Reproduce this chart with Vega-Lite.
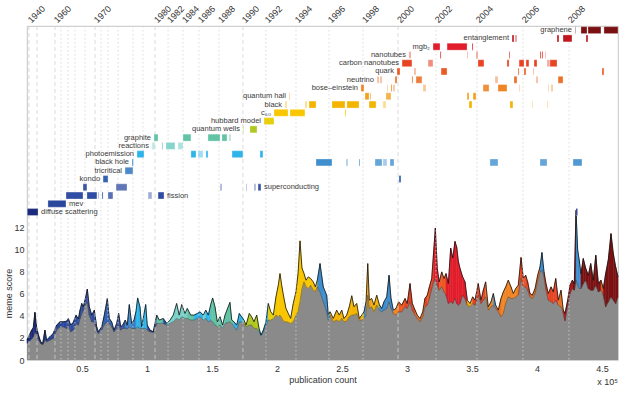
{
"$schema": "https://vega.github.io/schema/vega-lite/v6.json",
"width": 591,
"height": 334,
"autosize": {"type": "none"},
"padding": {"left": 27, "top": 26, "right": 22, "bottom": 35},
"background": "white",
"title": {"text": "x 10⁵", "orient": "bottom", "anchor": "end", "frame": "group", "fontSize": 9, "fontWeight": "normal", "color": "#333", "offset": -6, "font": "Liberation Sans"},
"config": {
"font": "Liberation Sans",
"view": {"stroke": "#b8b8b8", "strokeWidth": 0.8},
"axis": {"grid": false, "ticks": false, "domain": false, "labelFontSize": 9, "labelColor": "#333", "titleFontSize": 9, "titleFontWeight": "normal", "titleColor": "#333", "labelFont": "Liberation Sans", "titleFont": "Liberation Sans"}
},
"datasets": {
"score": [
{"x":0.077,"top":1.8,"base":1.5,"meme":"diffuse scattering"},
{"x":0.113,"top":2.7,"base":1.9,"meme":"diffuse scattering"},
{"x":0.125,"top":2.9,"base":2.1,"meme":"diffuse scattering"},
{"x":0.138,"top":4.3,"base":2.55,"meme":"diffuse scattering"},
{"x":0.152,"top":2.9,"base":2.25,"meme":"diffuse scattering"},
{"x":0.164,"top":2.3,"base":1.9,"meme":"diffuse scattering"},
{"x":0.182,"top":1.65,"base":1.5,"meme":"diffuse scattering"},
{"x":0.198,"top":1.5,"base":1.4,"meme":"diffuse scattering"},
{"x":0.215,"top":2.7,"base":1.8,"meme":"mev"},
{"x":0.228,"top":1.8,"base":1.65,"meme":"mev"},
{"x":0.254,"top":2.1,"base":1.8,"meme":"mev"},
{"x":0.279,"top":2.4,"base":1.95,"meme":"mev"},
{"x":0.305,"top":3.15,"base":2.7,"meme":"mev"},
{"x":0.331,"top":3.45,"base":3.0,"meme":"mev"},
{"x":0.356,"top":3.45,"base":3.0,"meme":"mev"},
{"x":0.382,"top":3.5,"base":2.85,"meme":"fission"},
{"x":0.395,"top":3.75,"base":3.15,"meme":"fission"},
{"x":0.413,"top":3.15,"base":2.55,"meme":"fission"},
{"x":0.433,"top":3.4,"base":2.7,"meme":"fission"},
{"x":0.454,"top":4.05,"base":3.3,"meme":"fission"},
{"x":0.472,"top":3.7,"base":3.15,"meme":"fission"},
{"x":0.485,"top":4.5,"base":3.75,"meme":"fission"},
{"x":0.498,"top":5.1,"base":4.2,"meme":"fission"},
{"x":0.510,"top":4.8,"base":4.5,"meme":"fission"},
{"x":0.523,"top":5.4,"base":4.95,"meme":"superconducting"},
{"x":0.541,"top":6.4,"base":5.2,"meme":"superconducting"},
{"x":0.556,"top":4.8,"base":4.05,"meme":"fission"},
{"x":0.575,"top":4.05,"base":3.45,"meme":"fission"},
{"x":0.595,"top":4.5,"base":3.45,"meme":"fission"},
{"x":0.613,"top":3.0,"base":2.7,"meme":"fission"},
{"x":0.625,"top":2.55,"base":2.4,"meme":"fission"},
{"x":0.652,"top":3.0,"base":2.7,"meme":"kondo"},
{"x":0.669,"top":3.9,"base":3.15,"meme":"kondo"},
{"x":0.695,"top":5.55,"base":3.45,"meme":"kondo"},
{"x":0.710,"top":3.75,"base":3.3,"meme":"kondo"},
{"x":0.728,"top":3.45,"base":3.0,"meme":"kondo"},
{"x":0.746,"top":2.7,"base":2.55,"meme":"superconducting"},
{"x":0.767,"top":3.3,"base":2.85,"meme":"superconducting"},
{"x":0.782,"top":4.2,"base":3.15,"meme":"superconducting"},
{"x":0.798,"top":3.0,"base":2.7,"meme":"superconducting"},
{"x":0.813,"top":3.15,"base":2.85,"meme":"superconducting"},
{"x":0.833,"top":3.6,"base":2.85,"meme":"tricritical"},
{"x":0.848,"top":3.15,"base":2.8,"meme":"tricritical"},
{"x":0.864,"top":5.0,"base":3.0,"meme":"black hole"},
{"x":0.882,"top":3.3,"base":2.85,"meme":"tricritical"},
{"x":0.900,"top":3.6,"base":2.85,"meme":"tricritical"},
{"x":0.915,"top":4.35,"base":2.85,"meme":"photoemission"},
{"x":0.928,"top":5.6,"base":3.0,"meme":"photoemission"},
{"x":0.946,"top":4.8,"base":2.85,"meme":"photoemission"},
{"x":0.959,"top":3.0,"base":2.85,"meme":"photoemission"},
{"x":0.990,"top":5.0,"base":2.85,"meme":"photoemission"},
{"x":1.002,"top":3.15,"base":2.7,"meme":"fission"},
{"x":1.023,"top":2.7,"base":2.55,"meme":"fission"},
{"x":1.048,"top":2.55,"base":2.5,"meme":"fission"},
{"x":1.075,"top":4.05,"base":3.3,"meme":"graphite"},
{"x":1.095,"top":3.6,"base":3.3,"meme":"graphite"},
{"x":1.125,"top":3.75,"base":3.3,"meme":"fission"},
{"x":1.152,"top":3.3,"base":3.15,"meme":"reactions"},
{"x":1.177,"top":3.6,"base":3.3,"meme":"reactions"},
{"x":1.202,"top":4.05,"base":3.45,"meme":"reactions"},
{"x":1.228,"top":5.1,"base":3.75,"meme":"reactions"},
{"x":1.248,"top":4.05,"base":3.6,"meme":"reactions"},
{"x":1.267,"top":5.0,"base":3.9,"meme":"reactions"},
{"x":1.292,"top":4.2,"base":3.75,"meme":"reactions"},
{"x":1.310,"top":4.65,"base":3.75,"meme":"graphite"},
{"x":1.336,"top":4.05,"base":3.6,"meme":"graphite"},
{"x":1.362,"top":4.05,"base":3.6,"meme":"photoemission"},
{"x":1.387,"top":4.2,"base":3.75,"meme":"photoemission"},
{"x":1.408,"top":4.35,"base":3.9,"meme":"photoemission"},
{"x":1.433,"top":4.05,"base":3.6,"meme":"reactions"},
{"x":1.452,"top":4.5,"base":3.75,"meme":"photoemission"},
{"x":1.472,"top":4.05,"base":3.45,"meme":"photoemission"},
{"x":1.490,"top":5.0,"base":3.6,"meme":"graphite"},
{"x":1.505,"top":5.6,"base":3.45,"meme":"graphite"},
{"x":1.523,"top":4.8,"base":3.15,"meme":"graphite"},
{"x":1.541,"top":3.45,"base":3.0,"meme":"graphite"},
{"x":1.562,"top":3.9,"base":3.15,"meme":"graphite"},
{"x":1.582,"top":3.15,"base":2.85,"meme":"reactions"},
{"x":1.600,"top":4.05,"base":3.3,"meme":"graphite"},
{"x":1.638,"top":5.2,"base":3.45,"meme":"graphite"},
{"x":1.652,"top":3.6,"base":3.3,"meme":"graphite"},
{"x":1.669,"top":3.45,"base":3.0,"meme":"photoemission"},
{"x":1.690,"top":3.15,"base":2.7,"meme":"photoemission"},
{"x":1.710,"top":4.2,"base":3.45,"meme":"photoemission"},
{"x":1.728,"top":3.9,"base":3.45,"meme":"photoemission"},
{"x":1.746,"top":3.6,"base":3.3,"meme":"quantum wells"},
{"x":1.762,"top":3.15,"base":3.0,"meme":"quantum wells"},
{"x":1.787,"top":4.2,"base":3.15,"meme":"quantum wells"},
{"x":1.805,"top":3.9,"base":3.15,"meme":"quantum wells"},
{"x":1.823,"top":3.45,"base":2.85,"meme":"quantum wells"},
{"x":1.844,"top":4.05,"base":2.85,"meme":"quantum wells"},
{"x":1.862,"top":2.85,"base":2.55,"meme":"photoemission"},
{"x":1.877,"top":2.25,"base":2.2,"meme":"photoemission"},
{"x":1.895,"top":2.7,"base":2.55,"meme":"photoemission"},
{"x":1.915,"top":3.45,"base":3.15,"meme":"photoemission"},
{"x":1.933,"top":5.1,"base":3.6,"meme":"hubbard model"},
{"x":1.952,"top":4.35,"base":3.6,"meme":"hubbard model"},
{"x":1.972,"top":4.05,"base":3.75,"meme":"hubbard model"},
{"x":1.992,"top":5.7,"base":4.05,"meme":"c₆₀"},
{"x":2.010,"top":6.75,"base":3.9,"meme":"c₆₀"},
{"x":2.023,"top":7.8,"base":4.05,"meme":"c₆₀"},
{"x":2.038,"top":6.6,"base":3.75,"meme":"c₆₀"},
{"x":2.054,"top":5.55,"base":3.45,"meme":"c₆₀"},
{"x":2.069,"top":4.65,"base":3.45,"meme":"c₆₀"},
{"x":2.087,"top":4.2,"base":3.4,"meme":"c₆₀"},
{"x":2.105,"top":3.75,"base":3.3,"meme":"c₆₀"},
{"x":2.125,"top":5.1,"base":3.45,"meme":"c₆₀"},
{"x":2.146,"top":6.15,"base":4.05,"meme":"c₆₀"},
{"x":2.162,"top":7.8,"base":4.35,"meme":"c₆₀"},
{"x":2.177,"top":10.75,"base":5.25,"meme":"c₆₀"},
{"x":2.192,"top":8.3,"base":6.45,"meme":"c₆₀"},
{"x":2.208,"top":7.8,"base":7.05,"meme":"c₆₀"},
{"x":2.223,"top":7.2,"base":6.6,"meme":"c₆₀"},
{"x":2.241,"top":7.5,"base":6.45,"meme":"c₆₀"},
{"x":2.259,"top":7.35,"base":6.75,"meme":"c₆₀"},
{"x":2.279,"top":7.05,"base":6.3,"meme":"black"},
{"x":2.295,"top":6.6,"base":6.15,"meme":"black"},
{"x":2.310,"top":7.2,"base":6.6,"meme":"black hole"},
{"x":2.331,"top":8.7,"base":6.15,"meme":"black hole"},
{"x":2.356,"top":6.6,"base":5.25,"meme":"black hole"},
{"x":2.382,"top":5.85,"base":4.35,"meme":"black hole"},
{"x":2.395,"top":4.05,"base":3.6,"meme":"black hole"},
{"x":2.408,"top":4.35,"base":4.05,"meme":"black"},
{"x":2.433,"top":3.75,"base":3.45,"meme":"black"},
{"x":2.459,"top":4.5,"base":3.6,"meme":"black"},
{"x":2.479,"top":4.05,"base":3.45,"meme":"black"},
{"x":2.498,"top":4.5,"base":3.75,"meme":"black"},
{"x":2.515,"top":3.75,"base":3.45,"meme":"black"},
{"x":2.536,"top":4.05,"base":3.5,"meme":"black"},
{"x":2.556,"top":4.8,"base":3.9,"meme":"black"},
{"x":2.575,"top":5.8,"base":4.05,"meme":"black"},
{"x":2.592,"top":4.8,"base":4.05,"meme":"black"},
{"x":2.613,"top":5.1,"base":4.2,"meme":"black"},
{"x":2.633,"top":3.75,"base":3.6,"meme":"quantum hall"},
{"x":2.652,"top":4.05,"base":3.6,"meme":"black"},
{"x":2.669,"top":4.35,"base":3.75,"meme":"black hole"},
{"x":2.685,"top":5.25,"base":4.05,"meme":"quantum hall"},
{"x":2.698,"top":8.7,"base":5.85,"meme":"quantum hall"},
{"x":2.710,"top":5.4,"base":4.65,"meme":"quantum hall"},
{"x":2.728,"top":5.55,"base":4.8,"meme":"black"},
{"x":2.746,"top":4.95,"base":4.35,"meme":"black"},
{"x":2.767,"top":5.85,"base":4.95,"meme":"black"},
{"x":2.787,"top":5.0,"base":4.5,"meme":"black hole"},
{"x":2.805,"top":4.65,"base":4.35,"meme":"black hole"},
{"x":2.823,"top":5.25,"base":4.5,"meme":"black hole"},
{"x":2.844,"top":5.7,"base":4.65,"meme":"black hole"},
{"x":2.862,"top":7.65,"base":5.25,"meme":"black hole"},
{"x":2.877,"top":5.55,"base":4.65,"meme":"black hole"},
{"x":2.895,"top":4.5,"base":4.2,"meme":"bose–einstein"},
{"x":2.915,"top":4.65,"base":4.05,"meme":"bose–einstein"},
{"x":2.936,"top":5.25,"base":4.35,"meme":"quark"},
{"x":2.959,"top":4.95,"base":4.35,"meme":"quark"},
{"x":2.985,"top":5.55,"base":4.8,"meme":"carbon nanotubes"},
{"x":3.002,"top":5.1,"base":4.65,"meme":"carbon nanotubes"},
{"x":3.023,"top":6.9,"base":5.25,"meme":"carbon nanotubes"},
{"x":3.041,"top":5.1,"base":4.5,"meme":"carbon nanotubes"},
{"x":3.062,"top":4.5,"base":4.05,"meme":"neutrino"},
{"x":3.079,"top":4.05,"base":3.75,"meme":"neutrino"},
{"x":3.100,"top":3.75,"base":3.45,"meme":"neutrino"},
{"x":3.121,"top":4.35,"base":3.9,"meme":"neutrino"},
{"x":3.138,"top":5.55,"base":4.8,"meme":"carbon nanotubes"},
{"x":3.156,"top":5.85,"base":4.95,"meme":"quark"},
{"x":3.172,"top":6.6,"base":5.55,"meme":"carbon nanotubes"},
{"x":3.190,"top":7.35,"base":6.45,"meme":"carbon nanotubes"},
{"x":3.205,"top":9.8,"base":7.05,"meme":"mgb₂"},
{"x":3.218,"top":11.9,"base":7.35,"meme":"mgb₂"},
{"x":3.233,"top":8.25,"base":6.75,"meme":"mgb₂"},
{"x":3.248,"top":7.05,"base":6.3,"meme":"quark"},
{"x":3.267,"top":7.95,"base":6.6,"meme":"quark"},
{"x":3.285,"top":7.35,"base":6.15,"meme":"quark"},
{"x":3.300,"top":7.8,"base":5.85,"meme":"mgb₂"},
{"x":3.318,"top":6.9,"base":5.1,"meme":"mgb₂"},
{"x":3.336,"top":10.1,"base":5.25,"meme":"mgb₂"},
{"x":3.352,"top":9.2,"base":5.1,"meme":"mgb₂"},
{"x":3.369,"top":10.7,"base":5.55,"meme":"mgb₂"},
{"x":3.382,"top":10.2,"base":5.1,"meme":"mgb₂"},
{"x":3.395,"top":8.9,"base":4.95,"meme":"mgb₂"},
{"x":3.408,"top":8.25,"base":5.1,"meme":"mgb₂"},
{"x":3.428,"top":7.5,"base":5.85,"meme":"mgb₂"},
{"x":3.446,"top":7.05,"base":5.55,"meme":"mgb₂"},
{"x":3.464,"top":5.4,"base":4.95,"meme":"black"},
{"x":3.485,"top":5.1,"base":4.8,"meme":"quantum hall"},
{"x":3.505,"top":5.7,"base":5.1,"meme":"carbon nanotubes"},
{"x":3.523,"top":5.4,"base":4.95,"meme":"carbon nanotubes"},
{"x":3.548,"top":6.9,"base":5.85,"meme":"carbon nanotubes"},
{"x":3.569,"top":5.4,"base":5.1,"meme":"carbon nanotubes"},
{"x":3.587,"top":6.3,"base":5.4,"meme":"carbon nanotubes"},
{"x":3.605,"top":7.05,"base":5.7,"meme":"bose–einstein"},
{"x":3.625,"top":4.8,"base":4.5,"meme":"bose–einstein"},
{"x":3.646,"top":5.25,"base":4.8,"meme":"bose–einstein"},
{"x":3.664,"top":6.0,"base":4.95,"meme":"black hole"},
{"x":3.682,"top":4.95,"base":4.65,"meme":"neutrino"},
{"x":3.702,"top":4.5,"base":4.35,"meme":"neutrino"},
{"x":3.723,"top":5.55,"base":3.9,"meme":"bose–einstein"},
{"x":3.741,"top":6.15,"base":4.2,"meme":"bose–einstein"},
{"x":3.759,"top":6.6,"base":5.1,"meme":"bose–einstein"},
{"x":3.779,"top":7.2,"base":5.7,"meme":"bose–einstein"},
{"x":3.800,"top":6.6,"base":5.55,"meme":"bose–einstein"},
{"x":3.818,"top":6.0,"base":5.55,"meme":"bose–einstein"},
{"x":3.836,"top":6.45,"base":5.7,"meme":"bose–einstein"},
{"x":3.856,"top":6.75,"base":5.85,"meme":"quark"},
{"x":3.877,"top":9.25,"base":7.35,"meme":"carbon nanotubes"},
{"x":3.895,"top":7.35,"base":6.6,"meme":"quark"},
{"x":3.913,"top":7.65,"base":6.6,"meme":"carbon nanotubes"},
{"x":3.928,"top":7.05,"base":6.3,"meme":"carbon nanotubes"},
{"x":3.946,"top":6.0,"base":5.7,"meme":"neutrino"},
{"x":3.964,"top":5.85,"base":5.55,"meme":"neutrino"},
{"x":3.985,"top":6.45,"base":6.0,"meme":"neutrino"},
{"x":4.005,"top":7.65,"base":7.05,"meme":"neutrino"},
{"x":4.023,"top":8.4,"base":7.95,"meme":"black hole"},
{"x":4.038,"top":9.7,"base":8.1,"meme":"black hole"},
{"x":4.054,"top":7.95,"base":7.5,"meme":"carbon nanotubes"},
{"x":4.069,"top":6.9,"base":6.3,"meme":"carbon nanotubes"},
{"x":4.087,"top":6.0,"base":5.4,"meme":"carbon nanotubes"},
{"x":4.108,"top":6.6,"base":5.25,"meme":"carbon nanotubes"},
{"x":4.125,"top":6.15,"base":5.1,"meme":"carbon nanotubes"},
{"x":4.144,"top":7.35,"base":5.4,"meme":"carbon nanotubes"},
{"x":4.164,"top":5.4,"base":4.95,"meme":"neutrino"},
{"x":4.185,"top":6.3,"base":4.8,"meme":"neutrino"},
{"x":4.202,"top":4.5,"base":4.2,"meme":"entanglement"},
{"x":4.215,"top":4.2,"base":3.55,"meme":"entanglement"},
{"x":4.236,"top":5.4,"base":4.95,"meme":"entanglement"},
{"x":4.254,"top":6.75,"base":6.0,"meme":"entanglement"},
{"x":4.272,"top":7.2,"base":6.45,"meme":"graphene"},
{"x":4.287,"top":6.9,"base":6.3,"meme":"graphene"},
{"x":4.300,"top":13.5,"base":7.2,"meme":"black hole"},
{"x":4.313,"top":9.9,"base":6.75,"meme":"black hole"},
{"x":4.325,"top":9.0,"base":6.45,"meme":"black hole"},
{"x":4.338,"top":7.8,"base":6.45,"meme":"graphene"},
{"x":4.356,"top":9.15,"base":6.9,"meme":"graphene"},
{"x":4.375,"top":8.25,"base":7.2,"meme":"graphene"},
{"x":4.395,"top":7.65,"base":6.45,"meme":"graphene"},
{"x":4.413,"top":8.7,"base":6.3,"meme":"graphene"},
{"x":4.433,"top":7.2,"base":6.3,"meme":"graphene"},
{"x":4.452,"top":9.45,"base":6.75,"meme":"graphene"},
{"x":4.472,"top":6.9,"base":6.15,"meme":"graphene"},
{"x":4.492,"top":7.2,"base":6.3,"meme":"quark"},
{"x":4.510,"top":6.45,"base":5.85,"meme":"graphene"},
{"x":4.528,"top":7.8,"base":4.8,"meme":"graphene"},
{"x":4.548,"top":9.0,"base":5.25,"meme":"graphene"},
{"x":4.569,"top":11.4,"base":5.7,"meme":"graphene"},
{"x":4.587,"top":9.6,"base":5.4,"meme":"graphene"},
{"x":4.605,"top":8.4,"base":5.1,"meme":"graphene"},
{"x":4.623,"top":7.5,"base":5.7,"meme":"graphene"}
],
"bars": [
{"meme":"diffuse scattering","start":0.079,"end":0.162,"w":1},
{"meme":"diffuse scattering","start":4.300,"end":4.312,"w":1},
{"meme":"mev","start":0.238,"end":0.377,"w":1},
{"meme":"fission","start":0.377,"end":0.508,"w":1},
{"meme":"fission","start":0.538,"end":0.615,"w":1},
{"meme":"fission","start":0.623,"end":0.631,"w":0.45},
{"meme":"fission","start":0.654,"end":0.662,"w":1},
{"meme":"fission","start":0.700,"end":0.738,"w":0.8},
{"meme":"fission","start":1.008,"end":1.038,"w":0.45},
{"meme":"fission","start":1.085,"end":1.131,"w":1},
{"meme":"superconducting","start":0.508,"end":0.538,"w":1},
{"meme":"superconducting","start":0.762,"end":0.846,"w":0.8},
{"meme":"superconducting","start":1.562,"end":1.577,"w":0.45},
{"meme":"superconducting","start":1.762,"end":1.769,"w":0.45},
{"meme":"superconducting","start":1.823,"end":1.838,"w":0.45},
{"meme":"superconducting","start":1.854,"end":1.877,"w":1},
{"meme":"kondo","start":0.662,"end":0.700,"w":1},
{"meme":"kondo","start":2.938,"end":2.954,"w":1},
{"meme":"tricritical","start":0.831,"end":0.892,"w":0.9},
{"meme":"black hole","start":0.885,"end":0.895,"w":1},
{"meme":"black hole","start":2.300,"end":2.423,"w":1},
{"meme":"black hole","start":2.531,"end":2.546,"w":0.45},
{"meme":"black hole","start":2.631,"end":2.638,"w":1},
{"meme":"black hole","start":2.754,"end":2.808,"w":0.8},
{"meme":"black hole","start":2.815,"end":2.846,"w":0.45},
{"meme":"black hole","start":2.869,"end":2.900,"w":0.8},
{"meme":"black hole","start":3.638,"end":3.700,"w":0.8},
{"meme":"black hole","start":4.023,"end":4.077,"w":0.8},
{"meme":"black hole","start":4.277,"end":4.346,"w":0.9},
{"meme":"photoemission","start":0.923,"end":0.977,"w":1},
{"meme":"photoemission","start":1.338,"end":1.377,"w":1},
{"meme":"photoemission","start":1.392,"end":1.431,"w":0.45},
{"meme":"photoemission","start":1.454,"end":1.469,"w":1},
{"meme":"photoemission","start":1.654,"end":1.738,"w":1},
{"meme":"photoemission","start":1.869,"end":1.892,"w":1},
{"meme":"reactions","start":1.038,"end":1.062,"w":0.45},
{"meme":"reactions","start":1.115,"end":1.123,"w":1},
{"meme":"reactions","start":1.146,"end":1.215,"w":0.9},
{"meme":"reactions","start":1.238,"end":1.277,"w":0.6},
{"meme":"graphite","start":1.054,"end":1.085,"w":1},
{"meme":"graphite","start":1.277,"end":1.338,"w":1},
{"meme":"graphite","start":1.469,"end":1.562,"w":1},
{"meme":"graphite","start":1.577,"end":1.615,"w":1},
{"meme":"graphite","start":1.631,"end":1.646,"w":0.45},
{"meme":"quantum wells","start":1.738,"end":1.746,"w":0.45},
{"meme":"quantum wells","start":1.792,"end":1.846,"w":1},
{"meme":"hubbard model","start":1.900,"end":1.977,"w":1},
{"meme":"c₆₀","start":1.977,"end":2.085,"w":1},
{"meme":"c₆₀","start":2.100,"end":2.215,"w":1},
{"meme":"c₆₀","start":2.523,"end":2.531,"w":1},
{"meme":"black","start":2.062,"end":2.077,"w":0.45},
{"meme":"black","start":2.215,"end":2.231,"w":0.45},
{"meme":"black","start":2.246,"end":2.300,"w":1},
{"meme":"black","start":2.423,"end":2.523,"w":1},
{"meme":"black","start":2.538,"end":2.631,"w":1},
{"meme":"black","start":2.708,"end":2.762,"w":1},
{"meme":"black","start":2.815,"end":2.838,"w":0.45},
{"meme":"black","start":3.477,"end":3.500,"w":1},
{"meme":"black","start":3.792,"end":3.815,"w":1},
{"meme":"black","start":3.962,"end":3.969,"w":0.45},
{"meme":"black","start":4.077,"end":4.085,"w":0.45},
{"meme":"quantum hall","start":2.092,"end":2.100,"w":0.45},
{"meme":"quantum hall","start":2.677,"end":2.708,"w":1},
{"meme":"quantum hall","start":2.715,"end":2.723,"w":0.8},
{"meme":"quantum hall","start":2.838,"end":2.877,"w":0.8},
{"meme":"quantum hall","start":3.462,"end":3.477,"w":1},
{"meme":"quantum hall","start":3.508,"end":3.531,"w":1},
{"meme":"bose–einstein","start":2.646,"end":2.669,"w":1},
{"meme":"bose–einstein","start":2.846,"end":2.854,"w":0.45},
{"meme":"bose–einstein","start":2.877,"end":2.885,"w":1},
{"meme":"bose–einstein","start":2.892,"end":2.908,"w":0.45},
{"meme":"bose–einstein","start":3.123,"end":3.146,"w":0.45},
{"meme":"bose–einstein","start":3.585,"end":3.631,"w":0.9},
{"meme":"bose–einstein","start":3.700,"end":3.769,"w":1},
{"meme":"bose–einstein","start":3.862,"end":3.869,"w":0.45},
{"meme":"bose–einstein","start":4.085,"end":4.092,"w":0.45},
{"meme":"bose–einstein","start":4.108,"end":4.123,"w":0.45},
{"meme":"neutrino","start":2.769,"end":2.785,"w":0.45},
{"meme":"neutrino","start":2.792,"end":2.808,"w":0.45},
{"meme":"neutrino","start":2.908,"end":2.923,"w":1},
{"meme":"neutrino","start":3.038,"end":3.046,"w":1},
{"meme":"neutrino","start":3.069,"end":3.115,"w":0.9},
{"meme":"neutrino","start":3.677,"end":3.700,"w":0.45},
{"meme":"neutrino","start":3.823,"end":3.846,"w":1},
{"meme":"neutrino","start":3.992,"end":4.008,"w":0.45},
{"meme":"neutrino","start":4.162,"end":4.200,"w":1},
{"meme":"quark","start":2.923,"end":2.946,"w":1},
{"meme":"quark","start":3.054,"end":3.069,"w":0.45},
{"meme":"quark","start":3.262,"end":3.308,"w":1},
{"meme":"quark","start":3.854,"end":3.862,"w":1},
{"meme":"quark","start":3.900,"end":3.915,"w":1},
{"meme":"quark","start":3.969,"end":3.977,"w":0.45},
{"meme":"quark","start":4.500,"end":4.515,"w":1},
{"meme":"carbon nanotubes","start":2.962,"end":3.038,"w":1},
{"meme":"carbon nanotubes","start":3.162,"end":3.200,"w":0.6},
{"meme":"carbon nanotubes","start":3.546,"end":3.592,"w":1},
{"meme":"carbon nanotubes","start":3.769,"end":3.785,"w":1},
{"meme":"carbon nanotubes","start":3.862,"end":3.900,"w":1},
{"meme":"carbon nanotubes","start":3.915,"end":3.938,"w":1},
{"meme":"carbon nanotubes","start":3.977,"end":4.000,"w":1},
{"meme":"carbon nanotubes","start":4.077,"end":4.100,"w":0.45},
{"meme":"carbon nanotubes","start":4.100,"end":4.154,"w":1},
{"meme":"nanotubes","start":3.015,"end":3.031,"w":0.45},
{"meme":"nanotubes","start":3.254,"end":3.262,"w":1},
{"meme":"nanotubes","start":3.462,"end":3.469,"w":0.45},
{"meme":"nanotubes","start":3.531,"end":3.546,"w":0.45},
{"meme":"nanotubes","start":3.785,"end":3.792,"w":1},
{"meme":"nanotubes","start":4.023,"end":4.031,"w":1},
{"meme":"nanotubes","start":4.038,"end":4.046,"w":1},
{"meme":"nanotubes","start":4.062,"end":4.069,"w":0.45},
{"meme":"mgb₂","start":3.200,"end":3.254,"w":1},
{"meme":"mgb₂","start":3.308,"end":3.462,"w":1},
{"meme":"mgb₂","start":3.500,"end":3.508,"w":1},
{"meme":"entanglement","start":3.808,"end":3.823,"w":1},
{"meme":"entanglement","start":3.831,"end":3.846,"w":0.45},
{"meme":"entanglement","start":4.154,"end":4.169,"w":1},
{"meme":"entanglement","start":4.200,"end":4.269,"w":1},
{"meme":"entanglement","start":4.377,"end":4.392,"w":1},
{"meme":"graphene","start":4.292,"end":4.300,"w":0.45},
{"meme":"graphene","start":4.338,"end":4.385,"w":1},
{"meme":"graphene","start":4.392,"end":4.492,"w":1},
{"meme":"graphene","start":4.515,"end":4.623,"w":1}
],
"years": [
{"year":1940,"pub":0.092,"kind":"major"},
{"year":1950,"pub":0.154,"kind":"major"},
{"year":1960,"pub":0.292,"kind":"major"},
{"year":1962,"pub":0.338,"kind":"minor"},
{"year":1964,"pub":0.392,"kind":"minor"},
{"year":1966,"pub":0.446,"kind":"minor"},
{"year":1968,"pub":0.523,"kind":"minor"},
{"year":1970,"pub":0.6,"kind":"major"},
{"year":1972,"pub":0.646,"kind":"minor"},
{"year":1974,"pub":0.7,"kind":"minor"},
{"year":1976,"pub":0.777,"kind":"minor"},
{"year":1977,"pub":0.892,"kind":"minor"},
{"year":1978,"pub":0.969,"kind":"minor"},
{"year":1980,"pub":1.062,"kind":"major"},
{"year":1982,"pub":1.162,"kind":"minor"},
{"year":1984,"pub":1.277,"kind":"minor"},
{"year":1986,"pub":1.4,"kind":"minor"},
{"year":1988,"pub":1.554,"kind":"minor"},
{"year":1990,"pub":1.738,"kind":"major"},
{"year":1992,"pub":1.915,"kind":"minor"},
{"year":1994,"pub":2.146,"kind":"minor"},
{"year":1996,"pub":2.4,"kind":"minor"},
{"year":1998,"pub":2.662,"kind":"minor"},
{"year":2000,"pub":2.931,"kind":"major"},
{"year":2002,"pub":3.223,"kind":"minor"},
{"year":2004,"pub":3.538,"kind":"minor"},
{"year":2006,"pub":3.892,"kind":"minor"},
{"year":2008,"pub":4.246,"kind":"minor"}
]
},
"resolve": {"scale": {"y": "independent"}, "axis": {"x": "independent"}},
"layer": [
{
"data": {"name": "score"},
"layer": [
{
"mark": {"type": "area", "color": "#8a8a8a"},
"encoding": {
"x": {"field": "x", "type": "quantitative", "scale": {"domain": [0.077, 4.623], "nice": false, "zero": false}, "axis": {"orient": "bottom", "values": [0.5,1,1.5,2,2.5,3,3.5,4,4.5], "format": "~g", "title": "publication count", "labelPadding": 4, "titlePadding": 2, "labelFlush": false}},
"y": {"field": "base", "type": "quantitative", "scale": {"domain": [0, 30.14], "nice": false}, "axis": {"values": [0,2,4,6,8,10,12], "title": "meme score", "titleX": -14, "titleY": 267, "titleAngle": -90, "titleBaseline": "bottom", "titleAlign": "center", "labelPadding": 3}}
}
},
{
"transform": [
{"window": [{"op": "lead", "field": "x", "as": "nx"}, {"op": "lead", "field": "top", "as": "ntop"}, {"op": "lead", "field": "base", "as": "nbase"}, {"op": "row_number", "as": "i"}], "sort": [{"field": "x", "order": "ascending"}]},
{"filter": "isValid(datum.nx)"},
{"calculate": "[datum.x, datum.nx]", "as": "xs"},
{"calculate": "[datum.top, datum.ntop]", "as": "ts"},
{"calculate": "[datum.base, datum.nbase]", "as": "bs"},
{"flatten": ["xs", "ts", "bs"], "as": ["px", "pt", "pb"]}
],
"mark": {"type": "area", "strokeWidth": 0.5},
"encoding": {
"x": {"field": "px", "type": "quantitative", "scale": {"domain": [0.077, 4.623], "nice": false, "zero": false}, "axis": {"orient": "bottom", "values": [0.5,1,1.5,2,2.5,3,3.5,4,4.5], "format": "~g", "title": "publication count", "labelPadding": 4, "titlePadding": 2, "labelFlush": false}},
"y": {"field": "pt", "type": "quantitative", "scale": {"domain": [0, 30.14], "nice": false}, "axis": {"values": [0,2,4,6,8,10,12], "title": "meme score", "titleX": -14, "titleY": 267, "titleAngle": -90, "titleBaseline": "bottom", "titleAlign": "center", "labelPadding": 3}},
"y2": {"field": "pb"},
"detail": {"field": "i", "type": "nominal"},
"color": {"field": "meme", "type": "nominal", "legend": null, "scale": {"domain": ["diffuse scattering","mev","fission","superconducting","kondo","tricritical","black hole","photoemission","reactions","graphite","quantum wells","hubbard model","c₆₀","black","quantum hall","bose–einstein","neutrino","quark","carbon nanotubes","nanotubes","mgb₂","entanglement","graphene"], "range": ["#1b2a7d","#2b479b","#2f4ea3","#3a55a6","#3563b2","#3a7cc3","#3f8fcf","#2fb4e9","#79d0c9","#62c3a5","#b0c81f","#e9cf0b","#f9c700","#f4b400","#f0a21c","#ef8524","#ec7027","#ea5a24","#e84424","#e33526","#e21d2b","#c0161f","#7b1113"]}},
"stroke": {"field": "meme", "type": "nominal", "legend": null, "scale": {"domain": ["diffuse scattering","mev","fission","superconducting","kondo","tricritical","black hole","photoemission","reactions","graphite","quantum wells","hubbard model","c₆₀","black","quantum hall","bose–einstein","neutrino","quark","carbon nanotubes","nanotubes","mgb₂","entanglement","graphene"], "range": ["#1b2a7d","#2b479b","#2f4ea3","#3a55a6","#3563b2","#3a7cc3","#3f8fcf","#2fb4e9","#79d0c9","#62c3a5","#b0c81f","#e9cf0b","#f9c700","#f4b400","#f0a21c","#ef8524","#ec7027","#ea5a24","#e84424","#e33526","#e21d2b","#c0161f","#7b1113"]}}
}
},
{
"mark": {"type": "line", "color": "#3a3a3a", "strokeWidth": 0.5},
"encoding": {
"x": {"field": "x", "type": "quantitative", "scale": {"domain": [0.077, 4.623], "nice": false, "zero": false}, "axis": {"orient": "bottom", "values": [0.5,1,1.5,2,2.5,3,3.5,4,4.5], "format": "~g", "title": "publication count", "labelPadding": 4, "titlePadding": 2, "labelFlush": false}},
"y": {"field": "base", "type": "quantitative", "scale": {"domain": [0, 30.14], "nice": false}, "axis": {"values": [0,2,4,6,8,10,12], "title": "meme score", "titleX": -14, "titleY": 267, "titleAngle": -90, "titleBaseline": "bottom", "titleAlign": "center", "labelPadding": 3}}
}
},
{
"mark": {"type": "line", "color": "#111111", "strokeWidth": 0.8},
"encoding": {
"x": {"field": "x", "type": "quantitative", "scale": {"domain": [0.077, 4.623], "nice": false, "zero": false}, "axis": {"orient": "bottom", "values": [0.5,1,1.5,2,2.5,3,3.5,4,4.5], "format": "~g", "title": "publication count", "labelPadding": 4, "titlePadding": 2, "labelFlush": false}},
"y": {"field": "top", "type": "quantitative", "scale": {"domain": [0, 30.14], "nice": false}, "axis": {"values": [0,2,4,6,8,10,12], "title": "meme score", "titleX": -14, "titleY": 267, "titleAngle": -90, "titleBaseline": "bottom", "titleAlign": "center", "labelPadding": 3}}
}
}
]
},
{
"data": {"name": "years"},
"mark": {"type": "rule", "strokeWidth": 0.8, "color": "#d2d2d2"},
"encoding": {
"x": {"field": "pub", "type": "quantitative", "scale": {"domain": [0.077, 4.623], "nice": false, "zero": false}, "axis": {"orient": "top", "title": null, "values": [0.092,0.292,0.6,1.062,1.162,1.277,1.4,1.554,1.738,1.915,2.146,2.4,2.662,2.931,3.223,3.538,3.892,4.246], "labelExpr": "['1940','1960','1970','1980','1982','1984','1986','1988','1990','1992','1994','1996','1998','2000','2002','2004','2006','2008'][indexof([0.092,0.292,0.6,1.062,1.162,1.277,1.4,1.554,1.738,1.915,2.146,2.4,2.662,2.931,3.223,3.538,3.892,4.246], datum.value)]", "labelAngle": -45, "labelAlign": "left", "labelBaseline": "middle", "labelPadding": 5, "labelOverlap": false, "labelFlush": false, "labelBound": false}},
"strokeDash": {"field": "kind", "type": "nominal", "legend": null, "scale": {"domain": ["major", "minor"], "range": [[4, 3], [1.5, 2.5]]}}
}
},
{
"data": {"name": "bars"},
"layer": [
{
"mark": {"type": "bar", "stroke": "white", "strokeWidth": 0.5, "strokeOpacity": 0.6},
"encoding": {
"x": {"field": "start", "type": "quantitative", "scale": {"domain": [0.077, 4.623], "nice": false, "zero": false}, "axis": null},
"x2": {"field": "end"},
"y": {"field": "meme", "type": "nominal", "axis": null, "scale": {"domain": ["graphene","entanglement","mgb₂","nanotubes","carbon nanotubes","quark","neutrino","bose–einstein","quantum hall","black","c₆₀","hubbard model","quantum wells","graphite","reactions","photoemission","black hole","tricritical","kondo","superconducting","fission","mev","diffuse scattering"], "range": [0, 190.2], "paddingInner": 0.16, "paddingOuter": 0.08}},
"color": {"field": "meme", "type": "nominal", "legend": null, "scale": {"domain": ["diffuse scattering","mev","fission","superconducting","kondo","tricritical","black hole","photoemission","reactions","graphite","quantum wells","hubbard model","c₆₀","black","quantum hall","bose–einstein","neutrino","quark","carbon nanotubes","nanotubes","mgb₂","entanglement","graphene"], "range": ["#1b2a7d","#2b479b","#2f4ea3","#3a55a6","#3563b2","#3a7cc3","#3f8fcf","#2fb4e9","#79d0c9","#62c3a5","#b0c81f","#e9cf0b","#f9c700","#f4b400","#f0a21c","#ef8524","#ec7027","#ea5a24","#e84424","#e33526","#e21d2b","#c0161f","#7b1113"]}},
"opacity": {"field": "w", "type": "quantitative", "scale": null}
}
},
{
"transform": [
{"filter": {"not": {"field": "meme", "oneOf": ["diffuse scattering", "mev", "fission", "superconducting"]}}},
{"aggregate": [{"op": "min", "field": "start", "as": "first"}], "groupby": ["meme"]}
],
"mark": {"type": "text", "align": "right", "baseline": "middle", "dx": -3, "fontSize": 7.5, "color": "#3a3a3a", "font": "Liberation Sans"},
"encoding": {
"x": {"field": "first", "type": "quantitative", "scale": {"domain": [0.077, 4.623], "nice": false, "zero": false}, "axis": null},
"y": {"field": "meme", "type": "nominal", "axis": null},
"text": {"field": "meme"}
}
},
{
"transform": [
{"filter": {"field": "meme", "oneOf": ["mev", "fission", "superconducting"]}},
{"aggregate": [{"op": "max", "field": "end", "as": "last"}], "groupby": ["meme"]}
],
"mark": {"type": "text", "align": "left", "baseline": "middle", "dx": 3, "fontSize": 7.5, "color": "#3a3a3a", "font": "Liberation Sans"},
"encoding": {
"x": {"field": "last", "type": "quantitative", "scale": {"domain": [0.077, 4.623], "nice": false, "zero": false}, "axis": null},
"y": {"field": "meme", "type": "nominal", "axis": null},
"text": {"field": "meme"}
}
},
{
"transform": [
{"filter": {"field": "meme", "equal": "diffuse scattering"}},
{"aggregate": [{"op": "min", "field": "end", "as": "firstend"}], "groupby": ["meme"]}
],
"mark": {"type": "text", "align": "left", "baseline": "middle", "dx": 3, "fontSize": 7.5, "color": "#3a3a3a", "font": "Liberation Sans"},
"encoding": {
"x": {"field": "firstend", "type": "quantitative", "scale": {"domain": [0.077, 4.623], "nice": false, "zero": false}, "axis": null},
"y": {"field": "meme", "type": "nominal", "axis": null},
"text": {"field": "meme"}
}
}
]
}
]
}
